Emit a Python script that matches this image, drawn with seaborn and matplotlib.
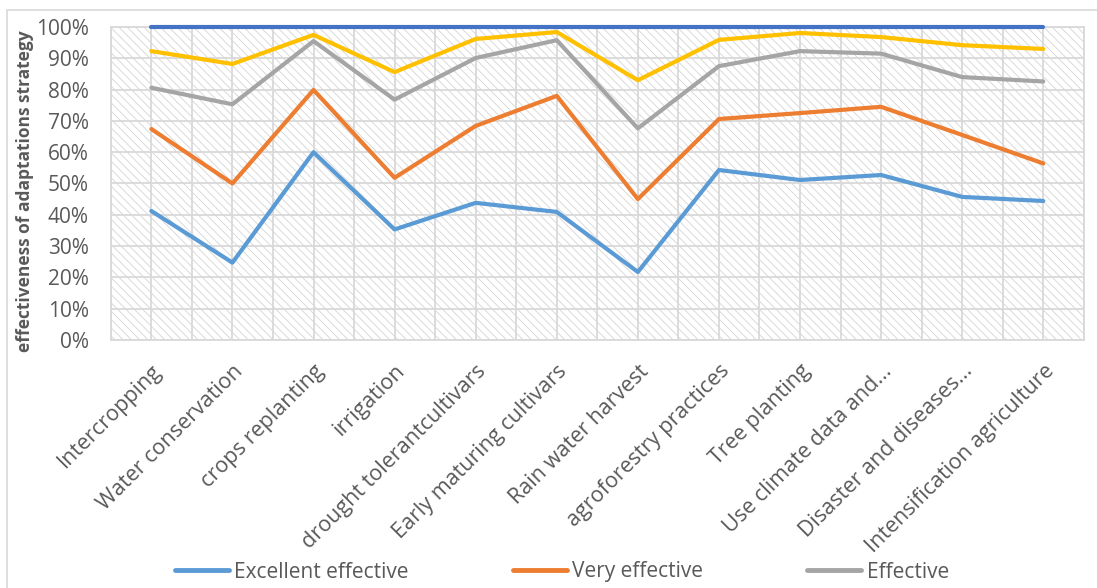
import matplotlib
matplotlib.use("Agg")
import matplotlib.pyplot as plt
from matplotlib.patches import Rectangle
from matplotlib.ticker import PercentFormatter, MultipleLocator
import seaborn as sns
import pandas as pd

# Adaptation strategies (x categories)
strategies = [
    "Intercropping", "Water conservation", "crops replanting", "irrigation",
    "drought tolerantcultivars", "Early maturing cultivars", "Rain water harvest",
    "agroforestry practices", "Tree planting", "Use climate data and...",
    "Disaster and diseases...", "Intensification agriculture",
]

# Cumulative shares of respondents per effectiveness level (%)
excellent_effective = [41.2, 24.7, 60.0, 35.3, 43.8, 40.9, 21.7, 54.3, 51.1, 52.7, 45.7, 44.4]
very_effective = [67.4, 50.0, 79.9, 51.8, 68.4, 78.0, 45.0, 70.6, 72.5, 74.5, 65.5, 56.4]
effective = [80.6, 75.3, 95.5, 76.8, 90.1, 95.8, 67.6, 87.5, 92.3, 91.5, 84.0, 82.6]
less_effective = [92.3, 88.2, 97.5, 85.6, 96.2, 98.4, 83.0, 95.9, 98.1, 96.8, 94.2, 93.0]
not_effective = [100.0] * 12

series_names = ["Excellent effective", "Very effective", "Effective", "Less effective", "Not effective"]
series_values = [excellent_effective, very_effective, effective, less_effective, not_effective]
series_colors = ["#5B9BD5", "#ED7D31", "#A5A5A5", "#FFC000", "#4472C4"]

rows = []
for name, vals in zip(series_names, series_values):
    for i, v in enumerate(vals):
        rows.append({"strategy": i, "share": v / 100.0, "level": name})
df = pd.DataFrame(rows)

sns.set_theme(style="white")
plt.rcParams["font.family"] = ["Open Sans", "DejaVu Sans"]
plt.rcParams["hatch.linewidth"] = 0.6
plt.rcParams["hatch.color"] = "#d4d4d4"

text_color = "#595959"
grid_color = "#d9d9d9"

fig = plt.figure(figsize=(10.97, 5.88), dpi=100)
ax = fig.add_axes([0.101, 0.422, 0.887, 0.532])

# hatched plot-area background
ax.add_patch(Rectangle((0, 0), 1, 1, transform=ax.transAxes, facecolor="white",
                       edgecolor="#d4d4d4", hatch="\\\\\\\\", linewidth=0, zorder=0))

sns.lineplot(data=df, x="strategy", y="share", hue="level", hue_order=series_names,
             palette=series_colors, linewidth=3.0, ax=ax, legend=False, zorder=3)
for line in ax.lines:
    line.set_clip_on(False)
    line.set_solid_capstyle("round")

ax.set_xlim(-0.5, len(strategies) - 0.5)
ax.set_ylim(0, 1.0)
ax.yaxis.set_major_locator(MultipleLocator(0.1))
ax.yaxis.set_major_formatter(PercentFormatter(1.0, decimals=0))
ax.set_xticks(range(len(strategies)))
ax.set_xticklabels(strategies, rotation=45, ha="right", rotation_mode="anchor")

ax.grid(False)
for x in [i * 0.5 - 0.5 for i in range(2 * len(strategies) + 1)]:
    ax.axvline(x, color=grid_color, linewidth=1.3, zorder=1)
for y in [i / 10 for i in range(11)]:
    ax.axhline(y, color=grid_color, linewidth=1.3, zorder=1)

for s in ax.spines.values():
    s.set_color(grid_color)
    s.set_linewidth(1.3)

ax.tick_params(axis="y", labelsize=15, colors=text_color, length=0, pad=16)
ax.tick_params(axis="x", labelsize=15.5, colors=text_color, length=0, pad=15)
ax.set_xlabel("")
ax.set_ylabel("")

fig.text(0.023, 1 - 191 / 588, "effectiveness of adaptations strategy", rotation=90,
         ha="center", va="center", fontsize=12.5, fontweight="bold", color=text_color)

# legend (first row of entries)
handles = [plt.Line2D([], [], color=c, linewidth=3.5) for c in series_colors[:3]]
fig.legend(handles, series_names[:3], loc="center", bbox_to_anchor=(0.512, 1 - 572 / 588),
           ncol=3, frameon=False, fontsize=15, handlelength=2.6, handletextpad=0.25,
           columnspacing=5.0, labelcolor=text_color)

# chart outer border
top = 1 - 10 / 588
fig.add_artist(Rectangle((0.0065, -0.05), 1.2, top + 0.05,
                         transform=fig.transFigure, fill=False, edgecolor="#d9d9d9",
                         linewidth=1.2))

fig.savefig("out.png", dpi=100)
